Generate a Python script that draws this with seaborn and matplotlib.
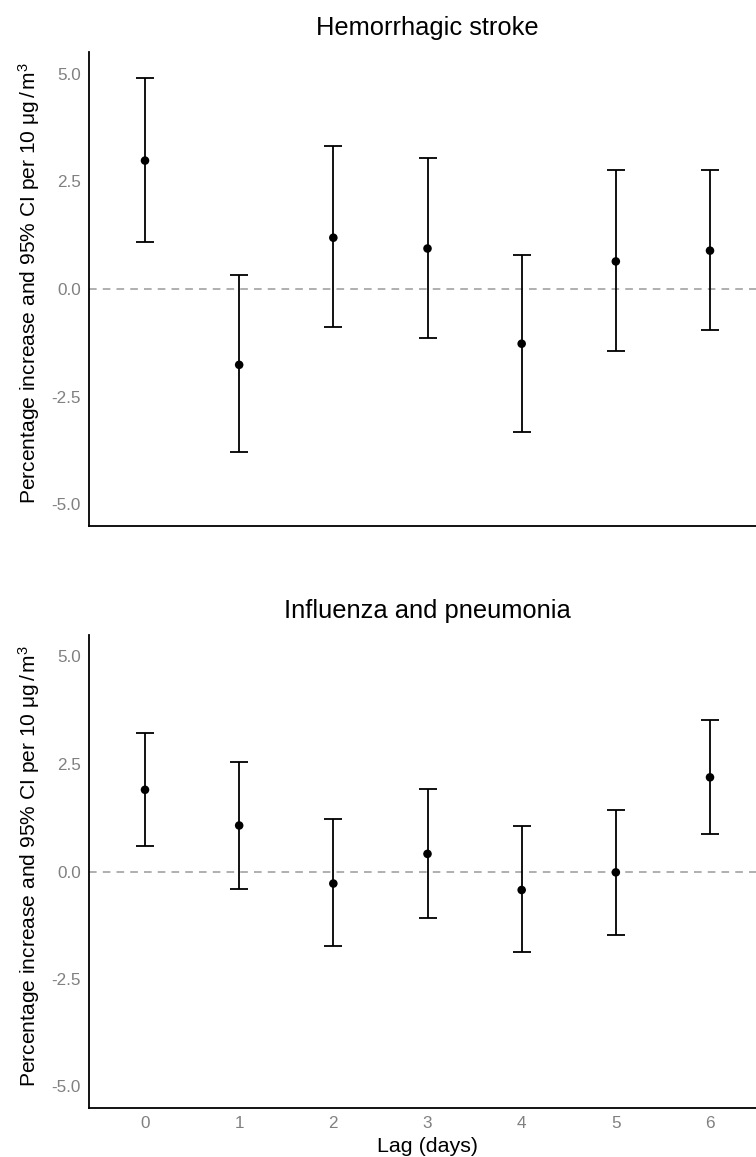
import matplotlib
matplotlib.use("Agg")
import matplotlib.pyplot as plt
import seaborn as sns
import pandas as pd

# ---- data ----
lags = [0, 1, 2, 3, 4, 5, 6]

hemo_est = [2.98, -1.76, 1.19, 0.94, -1.27, 0.64, 0.89]
hemo_lo = [1.08, -3.79, -0.88, -1.13, -3.32, -1.45, -0.95]
hemo_hi = [4.90, 0.32, 3.31, 3.05, 0.79, 2.76, 2.77]

flu_est = [1.90, 1.07, -0.28, 0.41, -0.43, -0.02, 2.19]
flu_lo = [0.59, -0.40, -1.74, -1.08, -1.87, -1.47, 0.88]
flu_hi = [3.23, 2.55, 1.22, 1.91, 1.05, 1.43, 3.52]

titles = ["Hemorrhagic stroke", "Influenza and pneumonia"]
yticks = [-5.0, -2.5, 0.0, 2.5, 5.0]
ylabel = "Percentage increase and 95% CI per 10 μg$\\,$/$\\,$m$^3$"
xlabel = "Lag (days)"

sns.set_theme(style="white")
plt.rcParams['font.family'] = ['Liberation Sans', 'DejaVu Sans']
plt.rcParams['mathtext.fontset'] = 'custom'
plt.rcParams['mathtext.rm'] = 'Liberation Sans'
plt.rcParams['mathtext.it'] = 'Liberation Sans:italic'

W, H = 756, 1157
fig = plt.figure(figsize=(W / 100, H / 100), dpi=100)

panels = [
    (titles[0], hemo_est, hemo_lo, hemo_hi, [88.5 / W, (H - 526) / H, 678 / W, 474 / H]),
    (titles[1], flu_est, flu_lo, flu_hi, [88.5 / W, (H - 1108) / H, 678 / W, 473 / H]),
]

for i, (title, est, lo, hi, pos) in enumerate(panels):
    ax = fig.add_axes(pos)
    df = pd.DataFrame({"lag": lags, "est": est, "lo": lo, "hi": hi})
    ax.axhline(0, color="#9a9a9a", lw=1.1, linestyle=(0, (5, 4)), zorder=1)
    ax.errorbar(df["lag"], df["est"],
                yerr=[df["est"] - df["lo"], df["hi"] - df["est"]],
                fmt="none", ecolor="black", elinewidth=1.3,
                capsize=6.8, capthick=1.3, zorder=2)
    sns.scatterplot(data=df, x="lag", y="est", ax=ax, color="black",
                    s=38, edgecolor="none", zorder=3)

    ax.set_xlim(-0.6, 6.6)
    ax.set_ylim(-5.5, 5.5)
    ax.set_yticks(yticks)
    ax.set_yticklabels([f"{v:.1f}" for v in yticks])
    ax.set_xticks(lags)
    ax.tick_params(length=0, pad=5.5, labelsize=12.3, labelcolor="#808080")

    for side in ["top", "right"]:
        ax.spines[side].set_visible(False)
    for side in ["left", "bottom"]:
        ax.spines[side].set_color("black")
        ax.spines[side].set_linewidth(1.3)

    ax.set_title(title, fontsize=18.4, color="black", pad=12)
    ax.set_ylabel(ylabel, fontsize=15.1, color="black")
    ax.yaxis.set_label_coords(-0.069, 0.512)

    if i == 0:
        ax.set_xticklabels([])
        ax.set_xlabel("")
    else:
        ax.set_xticklabels([str(l) for l in lags])
        ax.set_xlabel(xlabel, fontsize=15.4, color="black")
        ax.xaxis.set_label_coords(0.5, -0.061)

fig.savefig("out.png", dpi=100)
